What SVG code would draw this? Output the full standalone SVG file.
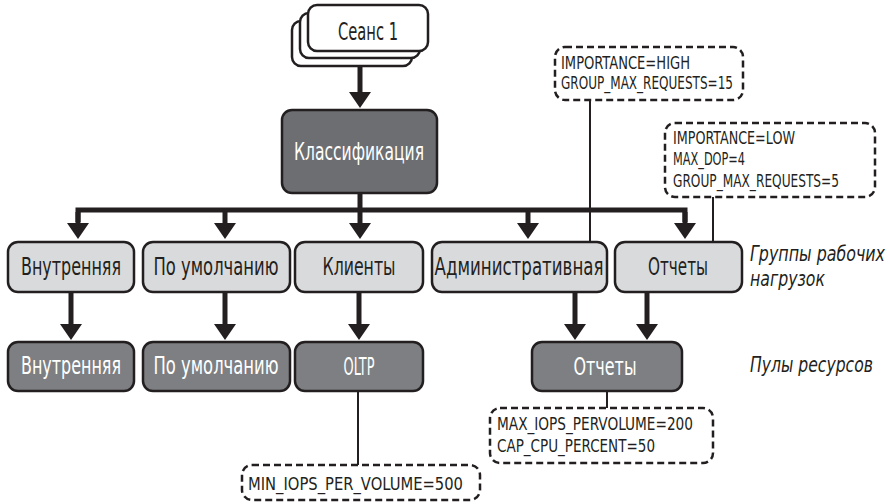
<svg xmlns="http://www.w3.org/2000/svg" width="890" height="504" viewBox="0 0 890 504">
<defs>
<marker id="ah" viewBox="0 0 16 22" markerWidth="16" markerHeight="22" refX="0" refY="11" orient="auto" markerUnits="userSpaceOnUse">
<path d="M0,0 L16,11 L0,22 Z" fill="#231f20"/>
</marker>
<style>
.box{stroke:#231f20;stroke-width:2.5}
.wl{fill:#ffffff}
.lt{fill:#d9dadb}
.dk{fill:#6d6e71}
.pl{fill:#7e7f82}
.dash{fill:#ffffff;stroke:#231f20;stroke-width:2.5;stroke-dasharray:7 4}
.t{font-family:"Liberation Sans Narrow","DejaVu Sans Condensed","Liberation Sans",sans-serif;font-size:24px;text-anchor:middle}
.tb{fill:#231f20}
.tw{fill:#ffffff}
.s{font-family:"Liberation Sans Narrow","DejaVu Sans Condensed","Liberation Sans",sans-serif;font-size:18px;fill:#231f20}
.i{font-family:"Liberation Sans Narrow","DejaVu Sans Condensed","Liberation Sans",sans-serif;font-size:21px;font-style:italic;fill:#231f20}
.thick{fill:none;stroke:#231f20;stroke-width:5}
.thin{fill:none;stroke:#231f20;stroke-width:2}
</style>
</defs>
<g id="connectors">
<line class="thick" x1="360" y1="66" x2="360" y2="92" marker-end="url(#ah)"/>
<polyline class="thick" points="78,222 78,210 685,210 685,222"/>
<line class="thick" x1="360" y1="193" x2="360" y2="210"/>
<line class="thick" x1="78" y1="212" x2="78" y2="223" marker-end="url(#ah)"/>
<line class="thick" x1="225" y1="210" x2="225" y2="223" marker-end="url(#ah)"/>
<line class="thick" x1="360" y1="210" x2="360" y2="223" marker-end="url(#ah)"/>
<line class="thick" x1="528" y1="210" x2="528" y2="223" marker-end="url(#ah)"/>
<line class="thick" x1="685" y1="212" x2="685" y2="223" marker-end="url(#ah)"/>
<line class="thick" x1="71" y1="292" x2="71" y2="324" marker-end="url(#ah)"/>
<line class="thick" x1="225" y1="292" x2="225" y2="324" marker-end="url(#ah)"/>
<line class="thick" x1="359" y1="292" x2="359" y2="324" marker-end="url(#ah)"/>
<line class="thick" x1="575" y1="292" x2="575" y2="324" marker-end="url(#ah)"/>
<line class="thick" x1="647" y1="292" x2="647" y2="324" marker-end="url(#ah)"/>
<line class="thin" x1="590" y1="100" x2="590" y2="242"/>
<line class="thin" x1="713" y1="197" x2="713" y2="242"/>
<line class="thin" x1="358" y1="391" x2="358" y2="465"/>
<line class="thin" x1="607" y1="391" x2="607" y2="408"/>
</g>
<g id="session">
<rect class="box wl" x="292" y="21" width="120" height="45" rx="9"/>
<rect class="box wl" x="300" y="13" width="120" height="45" rx="9"/>
<rect class="box wl" x="308" y="5" width="120" height="46" rx="9"/>
<text class="t tb" x="368" y="40" textLength="60" lengthAdjust="spacingAndGlyphs">Сеанс 1</text>
</g>
<g id="classification">
<rect class="box dk" x="282" y="110" width="155" height="83" rx="10"/>
<text class="t tw" x="359" y="160" textLength="130" lengthAdjust="spacingAndGlyphs">Классификация</text>
</g>
<g id="wg-internal">
<rect class="box lt" x="8" y="242" width="126" height="50" rx="10"/>
<text class="t tb" x="71" y="275" textLength="100" lengthAdjust="spacingAndGlyphs">Внутренняя</text>
</g>
<g id="wg-default">
<rect class="box lt" x="143" y="242" width="147" height="50" rx="10"/>
<text class="t tb" x="216" y="275" textLength="125" lengthAdjust="spacingAndGlyphs">По умолчанию</text>
</g>
<g id="wg-clients">
<rect class="box lt" x="295" y="242" width="128" height="50" rx="10"/>
<text class="t tb" x="359" y="275" textLength="73" lengthAdjust="spacingAndGlyphs">Клиенты</text>
</g>
<g id="wg-admin">
<rect class="box lt" x="432" y="242" width="175" height="50" rx="10"/>
<text class="t tb" x="519" y="275" textLength="169" lengthAdjust="spacingAndGlyphs">Административная</text>
</g>
<g id="wg-reports">
<rect class="box lt" x="615" y="242" width="127" height="50" rx="10"/>
<text class="t tb" x="678" y="275" textLength="60" lengthAdjust="spacingAndGlyphs">Отчеты</text>
</g>
<g id="label-wg">
<text class="i" transform="translate(750,261) scale(0.8,1)" x="0" y="0" textLength="168.75" lengthAdjust="spacingAndGlyphs">Группы рабочих</text>
<text class="i" transform="translate(750,286) scale(0.8,1)" x="0" y="0" textLength="93.75" lengthAdjust="spacingAndGlyphs">нагрузок</text>
</g>
<g id="pool-internal">
<rect class="box pl" x="8" y="342" width="126" height="49" rx="10"/>
<text class="t tw" x="71" y="374" textLength="100" lengthAdjust="spacingAndGlyphs">Внутренняя</text>
</g>
<g id="pool-default">
<rect class="box pl" x="143" y="342" width="147" height="49" rx="10"/>
<text class="t tw" x="216" y="374" textLength="125" lengthAdjust="spacingAndGlyphs">По умолчанию</text>
</g>
<g id="pool-oltp">
<rect class="box pl" x="295" y="342" width="128" height="49" rx="10"/>
<text class="t tw" x="359" y="375" textLength="31" lengthAdjust="spacingAndGlyphs">OLTP</text>
</g>
<g id="pool-reports">
<rect class="box pl" x="532" y="342" width="150" height="49" rx="10"/>
<text class="t tw" x="605" y="375" textLength="63" lengthAdjust="spacingAndGlyphs">Отчеты</text>
</g>
<g id="label-pools">
<text class="i" transform="translate(750,372) scale(0.8,1)" x="0" y="0" textLength="153.75" lengthAdjust="spacingAndGlyphs">Пулы ресурсов</text>
</g>
<g id="note-high">
<rect class="dash" x="555" y="47" width="188" height="53" rx="10"/>
<text class="s" x="561" y="69" textLength="129" lengthAdjust="spacingAndGlyphs">IMPORTANCE=HIGH</text>
<text class="s" x="561" y="89" textLength="172" lengthAdjust="spacingAndGlyphs">GROUP_MAX_REQUESTS=15</text>
</g>
<g id="note-low">
<rect class="dash" x="665" y="123" width="210" height="74" rx="10"/>
<text class="s" x="673" y="144" textLength="122" lengthAdjust="spacingAndGlyphs">IMPORTANCE=LOW</text>
<text class="s" x="673" y="165" textLength="72" lengthAdjust="spacingAndGlyphs">MAX_DOP=4</text>
<text class="s" transform="translate(673,187) scale(0.8,1)" x="0" y="0" textLength="207.5" lengthAdjust="spacingAndGlyphs">GROUP_MAX_REQUESTS=5</text>
</g>
<g id="note-oltp">
<rect class="dash" x="242" y="465" width="238" height="35" rx="10"/>
<text class="s" x="248" y="490" textLength="215" lengthAdjust="spacingAndGlyphs">MIN_IOPS_PER_VOLUME=500</text>
</g>
<g id="note-reports">
<rect class="dash" x="490" y="408" width="223" height="55" rx="10"/>
<text class="s" x="497" y="430" textLength="196" lengthAdjust="spacingAndGlyphs">MAX_IOPS_PERVOLUME=200</text>
<text class="s" x="497" y="452" textLength="158" lengthAdjust="spacingAndGlyphs">CAP_CPU_PERCENT=50</text>
</g>
</svg>
